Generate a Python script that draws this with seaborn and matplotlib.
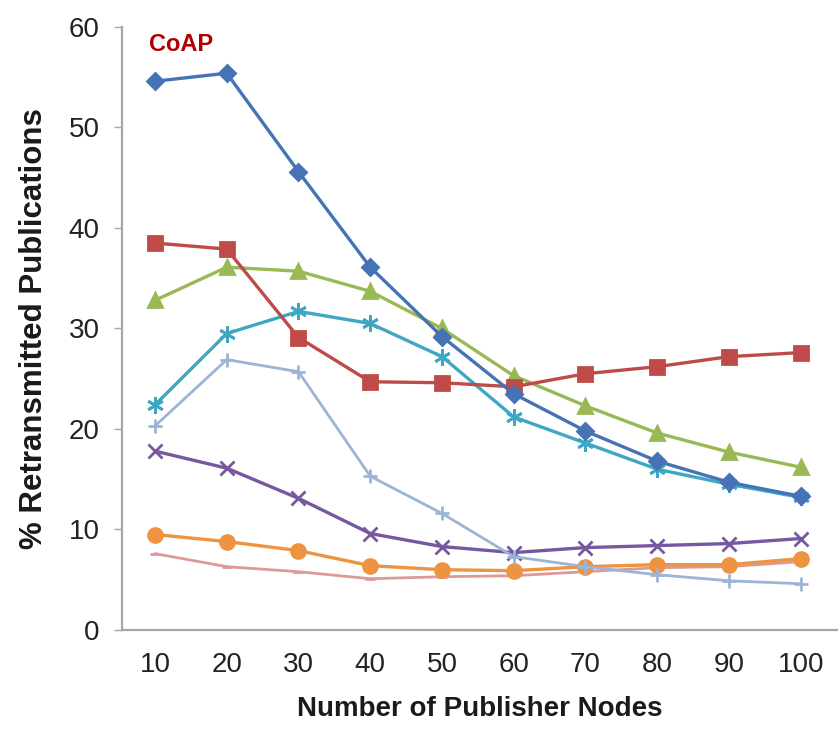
import numpy as np
import pandas as pd
import matplotlib
matplotlib.use('Agg')
import matplotlib.pyplot as plt
import seaborn as sns

# data
nodes = [10, 20, 30, 40, 50, 60, 70, 80, 90, 100]
s_diamond = [54.6, 55.4, 45.6, 36.1, 29.2, 23.5, 19.8, 16.8, 14.7, 13.3]
s_square = [38.5, 37.9, 29.1, 24.7, 24.6, 24.2, 25.5, 26.2, 27.2, 27.6]
s_triangle = [32.8, 36.1, 35.7, 33.7, 30.0, 25.3, 22.3, 19.6, 17.7, 16.2]
s_star = [22.4, 29.5, 31.7, 30.5, 27.2, 21.2, 18.6, 16.0, 14.5, 13.2]
s_plus = [20.3, 26.9, 25.7, 15.3, 11.6, 7.3, 6.3, 5.5, 4.9, 4.6]
s_cross = [17.8, 16.1, 13.1, 9.6, 8.3, 7.7, 8.2, 8.4, 8.6, 9.1]
s_circle = [9.5, 8.8, 7.9, 6.4, 6.0, 5.9, 6.3, 6.5, 6.5, 7.1]
s_dash = [7.6, 6.3, 5.8, 5.1, 5.3, 5.4, 5.8, 6.2, 6.3, 6.8]

series = [
    ('diamond', s_diamond, '#4673B5', 'D', 8, 2.4),
    ('square', s_square, '#BE4B48', 's', 10, 2.4),
    ('triangle', s_triangle, '#98B954', '^', 10, 2.4),
    ('star', s_star, '#3EA7C2', (6, 2, 0), 12, 2.4),
    ('plus', s_plus, '#9CB4D6', '+', 10, 2.0),
    ('cross', s_cross, '#7558A0', 'x', 10, 2.4),
    ('circle', s_circle, '#EE9340', 'o', 10, 2.4),
    ('dash', s_dash, '#DB9A98', '_', 7, 2.0),
]

sns.set_style('white')
plt.rcParams['font.family'] = ['Liberation Sans', 'DejaVu Sans']

fig = plt.figure(figsize=(8.38, 7.29), dpi=100)
ax = fig.add_axes([0.1456, 0.1358, 0.8544, 0.8272])

# draw in reverse so the first series ends up on top
for name, vals, col, mk, ms, lw in series[::-1]:
    df = pd.DataFrame({'x': nodes, 'y': vals})
    sns.lineplot(data=df, x='x', y='y', ax=ax, color=col, marker=mk,
                 markersize=ms, linewidth=lw, markeredgecolor=col,
                 markeredgewidth=2.0, legend=False)

ax.set_xlim(5.4, 105.2)
ax.set_ylim(0, 60)
ax.set_xticks(nodes)
ax.set_yticks(np.arange(0, 61, 10))
ax.tick_params(axis='y', length=6, width=1, color='#A6A6A6', labelsize=20, pad=10, left=True)
ax.tick_params(axis='x', length=0, labelsize=20, pad=16)
for t in ax.get_xticklabels() + ax.get_yticklabels():
    t.set_color('#222222')

sns.despine(ax=ax)
for sp in ['left', 'bottom']:
    ax.spines[sp].set_color('#A6A6A6')
    ax.spines[sp].set_linewidth(1.6)

ax.set_xlabel('Number of Publisher Nodes', fontsize=20, fontweight='bold',
              labelpad=13, color='#1a1a1a')
ax.set_ylabel('% Retransmitted Publications', fontsize=22.5, fontweight='bold',
              labelpad=14, color='#1a1a1a')

ax.text(0.037, 0.99, 'CoAP', transform=ax.transAxes, color='#B00000',
        fontsize=17, fontweight='bold', va='top', ha='left')

fig.savefig('out.png', dpi=100)
